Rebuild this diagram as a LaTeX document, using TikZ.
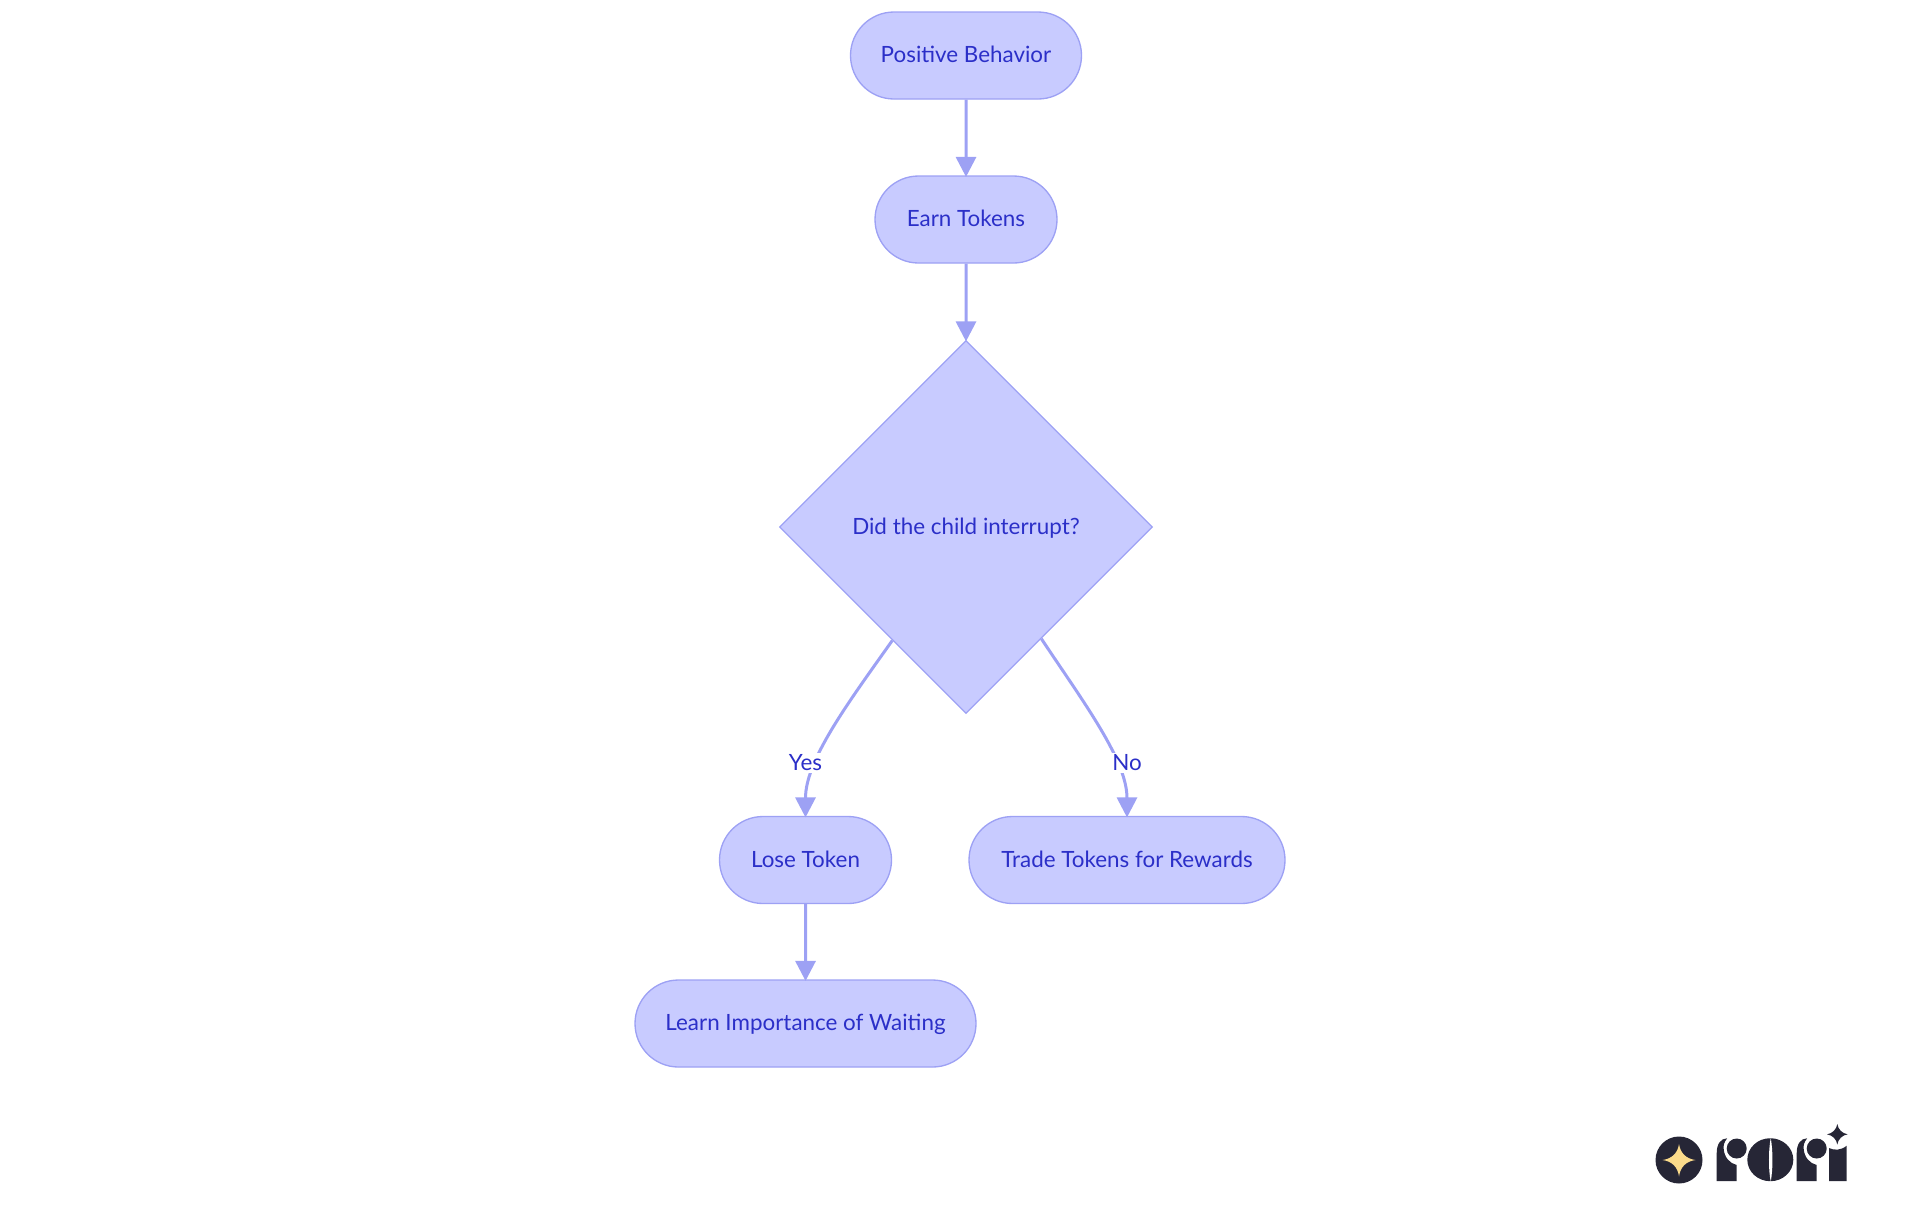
\documentclass[tikz,border=0pt]{standalone}
\usepackage{fontspec}
\setmainfont{Lato}
\usetikzlibrary{arrows.meta,shapes.geometric,shapes.misc}
\definecolor{nodefill}{HTML}{C8CBFF}
\definecolor{nodeline}{HTML}{9DA1F4}
\definecolor{nodetext}{HTML}{2B2FC8}
\definecolor{logodark}{HTML}{262636}
\definecolor{logostar}{HTML}{FBDB8B}
\tikzset{
  labelfont/.style={text=nodetext,font=\fontsize{16.8}{20}\selectfont,text height=13.1pt,text depth=2.6pt},
  pill/.style={rounded rectangle,draw=nodeline,fill=nodefill,line width=1pt,labelfont,minimum height=65.25pt,inner xsep=0pt,inner ysep=0pt},
  choice/.style={diamond,draw=nodeline,fill=nodefill,line width=1pt,labelfont,minimum width=279.75pt,minimum height=279.75pt,inner sep=0pt},
  edge/.style={draw=nodeline,line width=2.25pt,shorten >=-1.2pt,-{Triangle[length=15pt,width=15pt]}},
  elabel/.style={fill=white,labelfont,inner xsep=0.5pt,inner ysep=0pt},
  logor/.pic={
    \fill[logodark] (0,0) -- (0,-28) .. controls (0,-37) and (4,-42.7) .. (10.5,-42.7)
      .. controls (7.5,-39) and (6.5,-36) .. (7,-32) .. controls (7.5,-24) and (13,-17.5) .. (20,-16)
      -- (20,0) -- cycle;
    \fill[logodark] (20,-32.5) circle (10);
  }
}
\begin{document}
\begin{tikzpicture}[x=0.75pt,y=-0.75pt]
\useasboundingbox (0,0) rectangle (1920,1215);
\node[pill,minimum width=173.25pt] (pb) at (966,55.5) {Positive Behavior};
\node[pill,minimum width=136.5pt] (et) at (966,219.5) {Earn Tokens};
\node[choice] (dc) at (966,527) {Did the child interrupt?};
\node[pill,minimum width=129pt] (lt) at (805.5,860) {Lose Token};
\node[pill,minimum width=237pt] (tr) at (1127,860) {Trade Tokens for Rewards};
\node[pill,minimum width=255.75pt] (li) at (805.5,1023.5) {Learn Importance of Waiting};
\draw[edge] (pb) -- (et);
\draw[edge] (et) -- (dc.north);
\draw[edge] (dc.-123.3) .. controls (848,703) and (805.5,760) .. (lt.north);
\draw[edge] (dc.-56.7) .. controls (1084,703) and (1127,760) .. (tr.north);
\draw[edge] (lt) -- (li);
\node[elabel] (yes) at (805.5,763) {Yes};
\node[elabel] (no) at (1127,763) {No};
% logo
\fill[logodark] (1679,1160) circle (23.5);
\fill[logostar] (1679,1144) .. controls (1680.3,1153) and (1686,1158.7) .. (1695.5,1160) .. controls (1686,1161.3) and (1680.3,1167) .. (1679,1176.5) .. controls (1677.7,1167) and (1672,1161.3) .. (1662.5,1160) .. controls (1672,1158.7) and (1677.7,1153) .. (1679,1144) -- cycle;
\pic at (1716.7,1181) {logor};
\fill[logodark] (1770.3,1159.7) ellipse [x radius=23, y radius=21.5];
\fill[white] (1770.7,1138) .. controls (1773,1150) and (1773,1170) .. (1770.7,1181.5) .. controls (1768.4,1170) and (1768.4,1150) .. (1770.7,1138) -- cycle;
\pic at (1796.7,1181) {logor};
\fill[logodark] (1829,1181) -- (1829,1148) .. controls (1834,1150.5) and (1841,1150.5) .. (1846.7,1145.7) -- (1846.7,1181) -- cycle;
\fill[logodark] (1837.3,1124) .. controls (1838.2,1129.5) and (1842.2,1133.4) .. (1847.6,1134.3) .. controls (1842.2,1135.2) and (1838.2,1139) .. (1837.3,1144.5) .. controls (1836.4,1139) and (1832.4,1135.2) .. (1827,1134.3) .. controls (1832.4,1133.4) and (1836.4,1129.5) .. (1837.3,1124) -- cycle;
\end{tikzpicture}
\end{document}
